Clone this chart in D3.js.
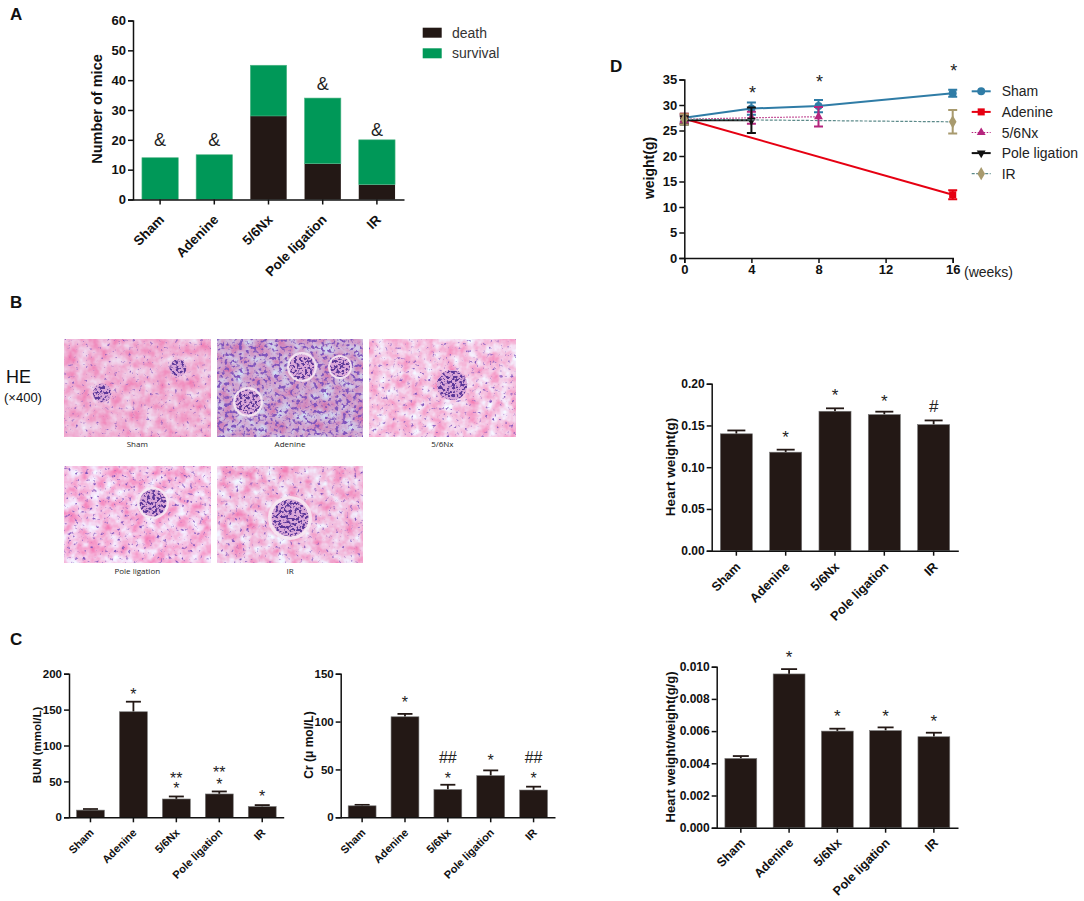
<!DOCTYPE html>
<html><head><meta charset="utf-8">
<script src="https://cdn.jsdelivr.net/npm/d3@7"></script>
<style>
html,body{margin:0;padding:0;background:#fff}
svg{display:block}
text{font-family:"Liberation Sans",Arial,sans-serif}
</style></head><body>
<svg id="c" width="1084" height="901"></svg>
<script>
// ---------- data ----------
const groups = ["Sham","Adenine","5/6Nx","Pole ligation","IR"];
const death = [0,0,28,12,5];
const survival = [14,15,17,22,15];
const survivalMarks = [["&",0,19.9],["&",1,20],["&",3,38.7],["&",4,23.3]];

const bunValues = [10,147,25.5,32.5,15];
const bunErrors = [1.5,14,3.5,3.5,2];
const bunMarks = [["*",1,176],["**",2,60],["*",2,45],["**",3,67],["*",3,50.5],["*",4,34]];

const crValues = [12,105,29,43.5,28.5];
const crErrors = [1,3,5,5.5,3.5];
const crMarks = [["*",1,123.6],["##",2,63],["*",2,45],["*",3,63],["##",4,63],["*",4,45]];

const heartValues = [0.14,0.118,0.167,0.163,0.151];
const heartErrors = [0.004,0.003,0.0035,0.0035,0.005];
const heartMarks = [["*",1,0.141],["*",2,0.1916],["*",3,0.1844],["#",4,0.1733]];

const ratioValues = [0.0043,0.00955,0.006,0.00603,0.00565];
const ratioErrors = [0.00015,0.0003,0.00015,0.0002,0.00025];
const ratioMarks = [["*",1,0.01087],["*",2,0.0072],["*",3,0.00719],["*",4,0.00688]];

const weekTicks = [0,4,8,12,16];
const shamWeeks = [0,4,8,16],    shamWeight = [27.5,29.3,29.8,32.3],  shamErr = [0.8,1.2,1.2,0.7];
const adenineWeeks = [0,16],     adenineWeight = [27.3,12.4],         adenineErr = [1,0.9];
const nxWeeks = [0,4,8],         nxWeight = [27.2,27.5,27.7],         nxErr = [0.8,1.2,1.9];
const poleWeeks = [0,4],         poleWeight = [27,27],                poleErr = [0.8,2.5];
const irWeeks = [0,16],          irWeight = [27.2,26.7],              irErr = [1,2.3];
const weightMarks = [["*",4,33.3],["*",8,35.3],["*",16,37.5]];

const slideNames = ["Sham","Adenine","5/6Nx","Pole ligation","IR"];

// ---------- drawing ----------
const svg = d3.select("#c");
const DARK = "#231815", GREEN = "#009858";
const glyphDy = {"*":0.58,"**":0.58,"&":0.35,"#":0.35,"##":0.35};

function addLetter(t,x,y){svg.append("text").attr("x",x).attr("y",y).attr("font-size",17).attr("font-weight","bold").attr("fill","#111").text(t);}
addLetter("A",10,20);addLetter("B",10,308);addLetter("C",10,645);addLetter("D",610,72);

function styleAxis(g,opts){
  g.selectAll("path,line").attr("stroke","#111").attr("stroke-width",opts.sw||1.5);
  g.selectAll("text").attr("font-size",opts.fs).attr("font-weight","bold").attr("fill","#111")
    .style("font-family",'"Liberation Sans",Arial,sans-serif');
}
function barFrame(o){
  const g = svg.append("g");
  const x = d3.scaleBand().domain(groups).range([o.x0,o.x1]).paddingInner(o.pad).paddingOuter(o.pad/2);
  const y = d3.scaleLinear().domain([0,o.max]).range([o.y0,o.yTop]);
  const ax = d3.axisLeft(y).tickValues(o.ticks).tickFormat(o.fmt).tickSize(5).tickPadding(2);
  const ay = g.append("g").attr("transform",`translate(${o.x0},0)`).call(ax);
  styleAxis(ay,{fs:o.fs});
  const bx = d3.axisBottom(x).tickSize(5).tickSizeOuter(0);
  const xg = g.append("g").attr("transform",`translate(0,${o.y0})`).call(bx);
  styleAxis(xg,{fs:o.xfs||o.fs});
  xg.selectAll("text").attr("text-anchor","end").attr("dy",0).attr("y",0)
    .attr("transform",`translate(${o.lx},${o.ly}) rotate(-45)`);
  g.append("text").attr("transform",`translate(${o.titleX},${o.titleY}) rotate(-90)`)
    .attr("text-anchor","middle").attr("font-size",o.tfs).attr("font-weight",o.tw||"bold").attr("fill","#111").text(o.title);
  return {g,x,y,ay,xg};
}
function marks(f,list,xf,fs,xoff){
  f.g.selectAll("text.m").data(list,(d,i)=>i).join("text").attr("class","m")
    .attr("x",d=>xf(d[1])+(xoff||0)).attr("y",d=>f.y(d[2])+glyphDy[d[0]]*fs)
    .attr("text-anchor","middle").attr("font-size",fs).attr("fill","#222").text(d=>d[0]);
}
function errBars(o,vals,errs,capW){
  const f = barFrame(o);
  const bars = f.g.insert("g",":first-child");
  const idx = d3.range(groups.length);
  const cx = i=>f.x(groups[i])+f.x.bandwidth()/2;
  const eg = bars.append("g").attr("stroke",DARK).attr("stroke-width",1.8);
  eg.selectAll("line.v").data(idx).join("line").attr("class","v").attr("x1",cx).attr("x2",cx)
    .attr("y1",i=>f.y(vals[i])).attr("y2",i=>f.y(vals[i]+errs[i]));
  eg.selectAll("line.c").data(idx).join("line").attr("class","c").attr("x1",i=>cx(i)-capW/2).attr("x2",i=>cx(i)+capW/2)
    .attr("y1",i=>f.y(vals[i]+errs[i])).attr("y2",i=>f.y(vals[i]+errs[i]));
  bars.selectAll("rect").data(idx).join("rect").attr("x",i=>f.x(groups[i])).attr("width",f.x.bandwidth())
    .attr("y",i=>f.y(vals[i])).attr("height",i=>f.y(0)-f.y(vals[i])).attr("fill",DARK).attr("stroke","#777").attr("stroke-width",0.6);
  return {f,bars};
}

// Panel A
(function(){
  const f = barFrame({x0:133,x1:404,y0:199.5,yTop:20.5,max:60,pad:0.33,ticks:[0,10,20,30,40,50,60],fmt:d3.format("d"),
    fs:13,xfs:13.5,lx:5,ly:21,title:"Number of mice",titleX:102,titleY:109,tfs:14.5});
  const bars = f.g.insert("g",":first-child");
  const idx = d3.range(groups.length);
  bars.selectAll("rect.d").data(idx).join("rect").attr("class","d").attr("x",i=>f.x(groups[i])).attr("width",f.x.bandwidth())
    .attr("y",i=>f.y(death[i])).attr("height",i=>f.y(0)-f.y(death[i])).attr("fill",DARK);
  bars.selectAll("rect.s").data(idx).join("rect").attr("class","s").attr("x",i=>f.x(groups[i])).attr("width",f.x.bandwidth())
    .attr("y",i=>f.y(death[i]+survival[i])).attr("height",i=>f.y(death[i])-f.y(death[i]+survival[i])).attr("fill",GREEN).attr("stroke","#4fb585").attr("stroke-width",0.6);
  marks(f,survivalMarks,i=>f.x(groups[i])+f.x.bandwidth()/2,18,0);
  [["death",DARK,27.7],["survival",GREEN,48.3]].forEach(d=>{
    svg.append("rect").attr("x",422.7).attr("y",d[2]).attr("width",19).attr("height",10).attr("fill",d[1]);
    svg.append("text").attr("x",452).attr("y",d[2]+10).attr("font-size",14).attr("fill","#333").text(d[0]);
  });
})();

// Panel C left
(function(){
  const r = errBars({x0:69,x1:283.7,y0:817.3,yTop:673.7,max:200,pad:0.35,ticks:[0,50,100,150,200],fmt:d3.format("d"),
    fs:11.5,xfs:11,lx:4,ly:16,title:"BUN (mmol/L)",titleX:41,titleY:745,tfs:11.5},bunValues,bunErrors,15);
  marks(r.f,bunMarks,i=>r.f.x(groups[i])+r.f.x.bandwidth()/2,16,0);
})();
// Panel C right
(function(){
  const r = errBars({x0:340.7,x1:555,y0:817.3,yTop:673.7,max:150,pad:0.35,ticks:[0,50,100,150],fmt:d3.format("d"),
    fs:11.5,xfs:11,lx:4,ly:16,title:"Cr (\u03bc mol/L)",titleX:313,titleY:745,tfs:12},crValues,crErrors,15);
  marks(r.f,crMarks,i=>r.f.x(groups[i])+r.f.x.bandwidth()/2,16,0);
})();
// Heart weight
(function(){
  const r = errBars({x0:711.7,x1:958.3,y0:550.7,yTop:383.7,max:0.2,pad:0.35,ticks:[0,0.05,0.1,0.15,0.2],fmt:d3.format(".2f"),
    fs:12,xfs:12.8,lx:5,ly:17,title:"Heart weight(g)",titleX:675,titleY:467,tfs:13.5},heartValues,heartErrors,18);
  marks(r.f,heartMarks,i=>r.f.x(groups[i])+r.f.x.bandwidth()/2,17,0);
})();
// Heart weight / weight
(function(){
  const r = errBars({x0:716.7,x1:958,y0:827.7,yTop:666.7,max:0.01,pad:0.34,ticks:[0,0.002,0.004,0.006,0.008,0.01],fmt:d3.format(".3f"),
    fs:12,xfs:12.5,lx:5,ly:16,title:"Heart weight/weight(g/g)",titleX:675,titleY:747,tfs:13},ratioValues,ratioErrors,16);
  marks(r.f,ratioMarks,i=>r.f.x(groups[i])+r.f.x.bandwidth()/2,17,0);
})();

// Panel D
(function(){
  const x = d3.scaleLinear().domain([0,16]).range([684.3,952.7]);
  const y = d3.scaleLinear().domain([0,35]).range([258,79.5]);
  const g = svg.append("g");
  const series = [
    {n:"Sham",w:shamWeeks,v:shamWeight,e:shamErr,c:"#2f7ca6",sw:2,dash:null,sym:d3.symbolCircle,s:50,cap:9},
    {n:"Adenine",w:adenineWeeks,v:adenineWeight,e:adenineErr,c:"#e60012",sw:2,dash:null,sym:d3.symbolSquare,s:50,cap:9},
    {n:"5/6Nx",w:nxWeeks,v:nxWeight,e:nxErr,c:"#b5257e",sw:1.2,dash:"1.5,1.5",sym:d3.symbolTriangle,s:34,cap:9},
    {n:"Pole ligation",w:poleWeeks,v:poleWeight,e:poleErr,c:"#111111",sw:2,dash:null,sym:d3.symbolTriangle,s:34,cap:9,flip:true},
    {n:"IR",w:irWeeks,v:irWeight,e:irErr,c:"#a89a6e",lc:"#5c8a8a",sw:1.2,dash:"3,1.5",sym:d3.symbolDiamond,s:50,cap:9}
  ];
  const line = d3.line().x(d=>x(d[0])).y(d=>y(d[1]));
  series.forEach(s=>{
    const pts = s.w.map((w,i)=>[w,s.v[i],s.e[i]]);
    const sg = g.append("g");
    sg.append("path").attr("d",line(pts)).attr("fill","none").attr("stroke",s.lc||s.c).attr("stroke-width",s.sw).attr("stroke-dasharray",s.dash);
    pts.forEach(p=>{
      const px=x(p[0]);
      sg.append("path").attr("d",`M${px},${y(p[1]-p[2])}V${y(p[1]+p[2])}M${px-s.cap/2},${y(p[1]-p[2])}H${px+s.cap/2}M${px-s.cap/2},${y(p[1]+p[2])}H${px+s.cap/2}`)
        .attr("stroke",s.c).attr("stroke-width",2).attr("fill","none");
      sg.append("path").attr("d",d3.symbol(s.sym,s.s)()).attr("transform",`translate(${px},${y(p[1])})${s.flip?" rotate(180)":""}`).attr("fill",s.c);
    });
  });
  const ay = svg.append("g").attr("transform","translate(684.3,0)").call(d3.axisLeft(y).tickValues(d3.range(0,36,5)).tickSize(5).tickPadding(2));
  styleAxis(ay,{fs:13});
  const ax = svg.append("g").attr("transform","translate(0,258)").call(d3.axisBottom(x).tickValues(weekTicks).tickSize(5).tickPadding(2));
  styleAxis(ax,{fs:13});
  svg.append("text").attr("x",964).attr("y",277).attr("font-size",14).attr("fill","#222").text("(weeks)");
  svg.append("text").attr("transform","translate(654,168) rotate(-90)").attr("text-anchor","middle").attr("font-size",14).attr("font-weight","bold").attr("fill","#111").text("weight(g)");
  weightMarks.forEach(m=>{
    svg.append("text").attr("x",x(m[1])+1).attr("y",y(m[2])+.58*18).attr("text-anchor","middle").attr("font-size",18).attr("fill","#222").text(m[0]);
  });
  series.forEach((s,i)=>{
    const ly=91.3+i*20.6;
    svg.append("line").attr("x1",971.7).attr("x2",990.7).attr("y1",ly).attr("y2",ly).attr("stroke",s.lc||s.c).attr("stroke-width",s.sw).attr("stroke-dasharray",s.dash);
    svg.append("path").attr("d",d3.symbol(s.sym,s.s)()).attr("transform",`translate(981.2,${ly})${s.flip?" rotate(180)":""}`).attr("fill",s.c);
    svg.append("text").attr("x",1001.7).attr("y",ly+5).attr("font-size",14).attr("fill","#222").text(s.n);
  });
})();

// Panel B: stained-section panels, approximated with a procedural tissue texture
(function(){
  const defs = svg.append("defs");
  function tissue(id,seed,look){
    const fl = defs.append("filter").attr("id",id).attr("x",0).attr("y",0).attr("width","100%").attr("height","100%").attr("color-interpolation-filters","sRGB");
    fl.append("feTurbulence").attr("type","fractalNoise").attr("baseFrequency","0.09").attr("numOctaves",3).attr("seed",seed).attr("result","n");
    fl.append("feColorMatrix").attr("in","n").attr("type","matrix")
      .attr("values",`0 0 0 0 ${look.r}  ${look.ga} 0 0 0 ${look.gb}  ${look.ba} 0 0 0 ${look.bb}  0 0 0 0 1`).attr("result","pink");
    fl.append("feTurbulence").attr("type","fractalNoise").attr("baseFrequency","0.28").attr("numOctaves",2).attr("seed",seed+7).attr("result","m");
    fl.append("feColorMatrix").attr("in","m").attr("type","matrix")
      .attr("values",`0 0 0 0 0.50  0 0 0 0 0.33  0 0 0 0 0.74  ${look.k} 0 0 0 ${-look.k*look.t}`).attr("result","spots");
    const mg = fl.append("feMerge");
    mg.append("feMergeNode").attr("in","pink");
    mg.append("feMergeNode").attr("in","spots");
  }
  const gf = defs.append("filter").attr("id","glomTex").attr("x",0).attr("y",0).attr("width","100%").attr("height","100%").attr("color-interpolation-filters","sRGB");
  gf.append("feTurbulence").attr("type","fractalNoise").attr("baseFrequency","0.38").attr("numOctaves",2).attr("seed",11).attr("result","m");
  gf.append("feColorMatrix").attr("in","m").attr("type","matrix").attr("values","0 0 0 0 0.36  0 0 0 0 0.22  0 0 0 0 0.60  9 0 0 0 -4.4").attr("result","sp");
  gf.append("feComposite").attr("in","sp").attr("in2","SourceGraphic").attr("operator","in").attr("result","c");
  const gm = gf.append("feMerge");
  gm.append("feMergeNode").attr("in","SourceGraphic");
  gm.append("feMergeNode").attr("in","c");

  const slidePos = [[64.3,339.3],[217,339.3],[369.3,339.3],[64.3,466],[217,466]];
  const slideW = 146, slideH = 97;
  const looks = [
    {r:.94,ga:.55,gb:.42,ba:.35,bb:.66,k:5,t:.66},
    {r:.82,ga:.60,gb:.36,ba:.40,bb:.62,k:6,t:.52},
    {r:.96,ga:.70,gb:.42,ba:.45,bb:.66,k:5,t:.64},
    {r:.96,ga:.70,gb:.40,ba:.45,bb:.66,k:5,t:.63},
    {r:.95,ga:.70,gb:.40,ba:.45,bb:.65,k:5,t:.64}
  ];
  const glom = [[[178,368,10,0],[102,393,11,0]],[[302,367,15,1],[340,367,12,1],[248,402,15,1]],[[452,385,18,0]],[[153,503,16,1],],[[290,518,22,1]]];
  slideNames.forEach((n,i)=>{
    const [px,py]=slidePos[i];
    tissue("t"+i,i*5+3,looks[i]);
    svg.append("rect").attr("x",px).attr("y",py).attr("width",slideW).attr("height",slideH).attr("fill","#f0a8d0").attr("filter",`url(#t${i})`);
    glom[i].forEach(c=>{
      if(c[3]) svg.append("circle").attr("cx",c[0]).attr("cy",c[1]).attr("r",c[2]).attr("fill","#f6e8f2").attr("opacity",.9);
      svg.append("circle").attr("cx",c[0]).attr("cy",c[1]).attr("r",c[2]*0.84).attr("fill","#d9a6d8").attr("filter","url(#glomTex)");
    });
    svg.append("text").attr("x",px+slideW/2).attr("y",py+slideH+11).attr("text-anchor","middle")
      .style("font-family",'"Open Sans",sans-serif').attr("font-size",8).attr("fill","#222").text(n);
  });
  svg.append("text").attr("x",6).attr("y",383).attr("font-size",18).attr("fill","#111").text("HE");
  svg.append("text").attr("x",4).attr("y",402).attr("font-size",13).attr("fill","#111").text("(\u00d7400)");
})();
</script>
</body></html>
